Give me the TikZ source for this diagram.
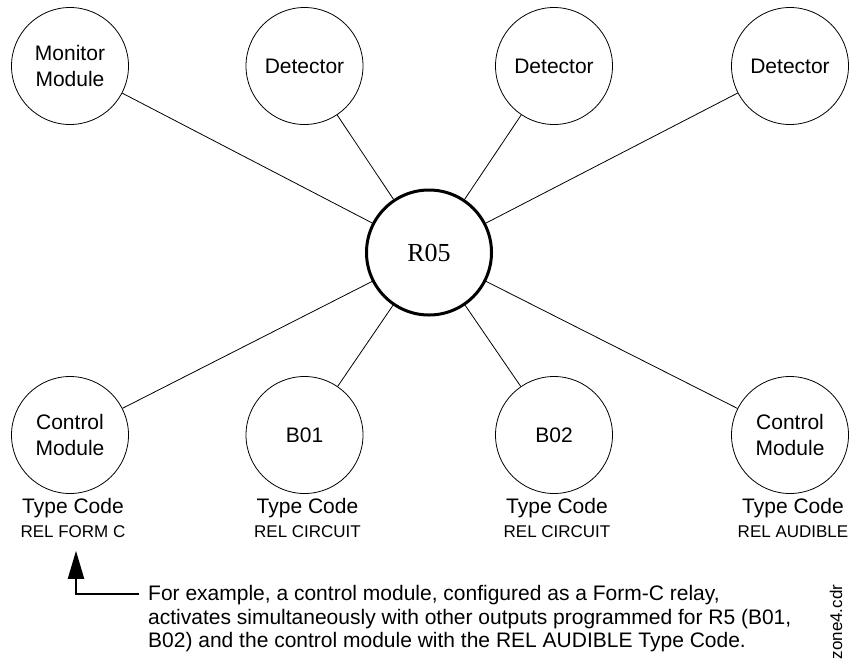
\documentclass[tikz,border=0pt]{standalone}
\usepackage{fontspec}
\setmainfont{Liberation Sans}
\newfontfamily\hubfont{Liberation Serif}
\usepackage{tikz}
\usetikzlibrary{positioning,arrows.meta,calc}

\begin{document}
\begin{tikzpicture}[
  x=1pt,y=1pt,
  node distance=4pt and 4pt,
  unit/.style={draw,circle,line width=0.8pt,minimum size=117pt,inner sep=0pt,align=center,font={\fontsize{21}{26}\selectfont}},
  hubunit/.style={draw,circle,line width=3pt,minimum size=125pt,inner sep=0pt,font={\hubfont\fontsize{26}{30}\selectfont}},
  link/.style={line width=0.8pt},
  typelbl/.style={inner sep=0pt,xshift=3pt,font={\fontsize{21}{24}\selectfont}},
  rellbl/.style={inner sep=0pt,font={\fontsize{17}{20}\selectfont}},
  pointer/.style={-{Triangle[length=28pt,width=16pt]},line width=2pt}
]
\useasboundingbox (0,0) rectangle (858,-659);
\node[hubunit] (hub) at (429,-252.5) {R05};
\node[unit] (mon) at (70,-66) {Monitor\\Module};
\node[unit] (detA) at (304.5,-66) {Detector};
\node[unit] (detB) at (554,-66) {Detector};
\node[unit] (detC) at (790,-66) {Detector};
\node[unit] (ctlA) at (70,-435) {Control\\Module};
\node[unit] (bA) at (304.5,-435) {B01};
\node[unit] (bB) at (554,-435) {B02};
\node[unit] (ctlB) at (790,-435) {Control\\Module};
\node[typelbl,below=4pt of ctlA] (typeA) {Type Code};
\node[typelbl,below=4pt of bA] (typeB) {Type Code};
\node[typelbl,below=4pt of bB] (typeC) {Type Code};
\node[typelbl,below=4pt of ctlB] (typeD) {Type Code};
\node[rellbl,below=7.5pt of typeA] (relA) {REL FORM C};
\node[rellbl,below=7.5pt of typeB] (relB) {REL CIRCUIT};
\node[rellbl,below=7.5pt of typeC] (relC) {REL CIRCUIT};
\node[rellbl,below=7.5pt of typeD] (relD) {REL AUDIBLE};
\node[anchor=north west,inner sep=0pt,align=left,font={\fontsize{21}{23.5}\selectfont}] (note) at (148,-585.5)
  {For example, a control module, configured as a Form-C relay,\\activates simultaneously with other outputs programmed for R5 (B01,\\B02) and the control module with the REL AUDIBLE Type Code.};
\node[rotate=90,inner sep=0pt,font={\fontsize{17}{20}\selectfont}] (fname) at (836,-622) {zone4.cdr};
\coordinate (noteend) at ([shift={(-9pt,-8pt)}]note.north west);
\coordinate (bend) at (76,-593.5);
\draw[link] (hub) -- (mon);
\draw[link] (hub) -- (detA);
\draw[link] (hub) -- (detB);
\draw[link] (hub) -- (detC);
\draw[link] (hub) -- (ctlA);
\draw[link] (hub) -- (bA);
\draw[link] (hub) -- (bB);
\draw[link] (hub) -- (ctlB);
\draw[pointer,shorten >=13pt] (noteend) -- (bend) -- (bend |- relA.south);
\end{tikzpicture}
\end{document}
